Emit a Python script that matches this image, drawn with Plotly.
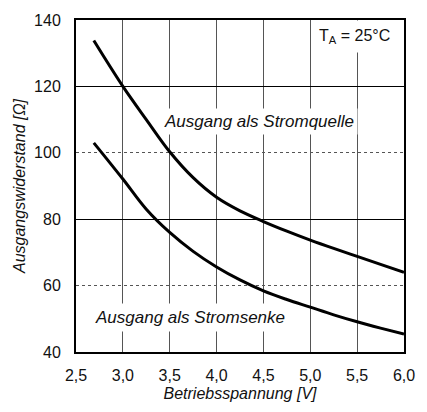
import plotly.graph_objects as go

# Betriebsspannung [V]
x_vals = [2.69, 3.0, 3.25, 3.5, 3.75, 4.0, 4.25, 4.5, 4.75, 5.0, 5.25, 5.5, 5.75, 6.0]
# Ausgang als Stromquelle [Ohm]
quelle = [133.8, 120.0, 110.0, 100.3, 92.5, 86.6, 82.5, 79.3, 76.4, 73.7, 71.2, 68.8, 66.4, 64.0]
# Ausgang als Stromsenke [Ohm]
senke = [103.0, 92.1, 83.0, 76.0, 70.3, 65.6, 61.7, 58.4, 55.8, 53.5, 51.2, 49.1, 47.2, 45.4]

x_ticks = [2.5, 3.0, 3.5, 4.0, 4.5, 5.0, 5.5, 6.0]
y_ticks = [40, 60, 80, 100, 120, 140]
y_solid_grid = [80, 120]
y_dot_grid = [60, 100]

FONT = "Liberation Sans, Arial, Helvetica, sans-serif"

fig = go.Figure()
# invisible helpers so overlay axes exist
for ax in ["y2", "y3"]:
    fig.add_trace(go.Scatter(x=x_vals, y=quelle, yaxis=ax, mode="lines",
                             line=dict(width=0, color="rgba(0,0,0,0)"),
                             hoverinfo="skip", showlegend=False))
fig.add_trace(go.Scatter(x=x_vals, y=quelle, mode="lines", line_shape="spline",
                         line=dict(color="black", width=3), showlegend=False))
fig.add_trace(go.Scatter(x=x_vals, y=senke, mode="lines", line_shape="spline",
                         line=dict(color="black", width=3), showlegend=False))

fig.update_layout(
    width=427, height=412,
    margin=dict(l=76, r=13, t=16, b=58),
    paper_bgcolor="white", plot_bgcolor="white",
    separators=",.",
    font=dict(family=FONT, size=16, color="#111"),
    xaxis=dict(range=[2.5, 6.0], tickvals=x_ticks, tickformat=".1f",
               showgrid=True, gridcolor="#555", gridwidth=1.3,
               showline=True, linecolor="black", linewidth=2, mirror=True,
               zeroline=False, ticks="", ticklabelstandoff=8,
               title=dict(text="<i>Betriebsspannung [V]</i>", standoff=5,
                          font=dict(size=16))),
    yaxis=dict(range=[40, 140], tickvals=y_ticks, showgrid=False,
               showline=True, linecolor="black", linewidth=2, mirror=True,
               zeroline=False, ticks="", ticklabelstandoff=10,
               title=dict(text="<i>Ausgangswiderstand [Ω]</i>", standoff=4,
                          font=dict(size=16))),
    yaxis2=dict(range=[40, 140], overlaying="y", tickvals=y_solid_grid,
                showgrid=True, gridcolor="black", gridwidth=1,
                showticklabels=False, showline=False, zeroline=False, ticks=""),
    yaxis3=dict(range=[40, 140], overlaying="y", tickvals=y_dot_grid,
                showgrid=True, gridcolor="#555", gridwidth=1, griddash="dot",
                showticklabels=False, showline=False, zeroline=False, ticks=""),
)

fig.add_annotation(x=4.45, y=109.3, xref="x", yref="y", showarrow=False,
                   text="<i>Ausgang als Stromquelle</i>", font=dict(size=17),
                   bgcolor="white", borderpad=3)
fig.add_annotation(x=3.72, y=50.3, xref="x", yref="y", showarrow=False,
                   text="<i>Ausgang als Stromsenke</i>", font=dict(size=17),
                   bgcolor="white", borderpad=4)
fig.add_annotation(x=5.92, y=135.0, xref="x", yref="y", showarrow=False,
                   xanchor="right", text="T<sub>A</sub> = 25°C", font=dict(size=16),
                   bgcolor="white", borderpad=6)

fig.write_html("out.html")
